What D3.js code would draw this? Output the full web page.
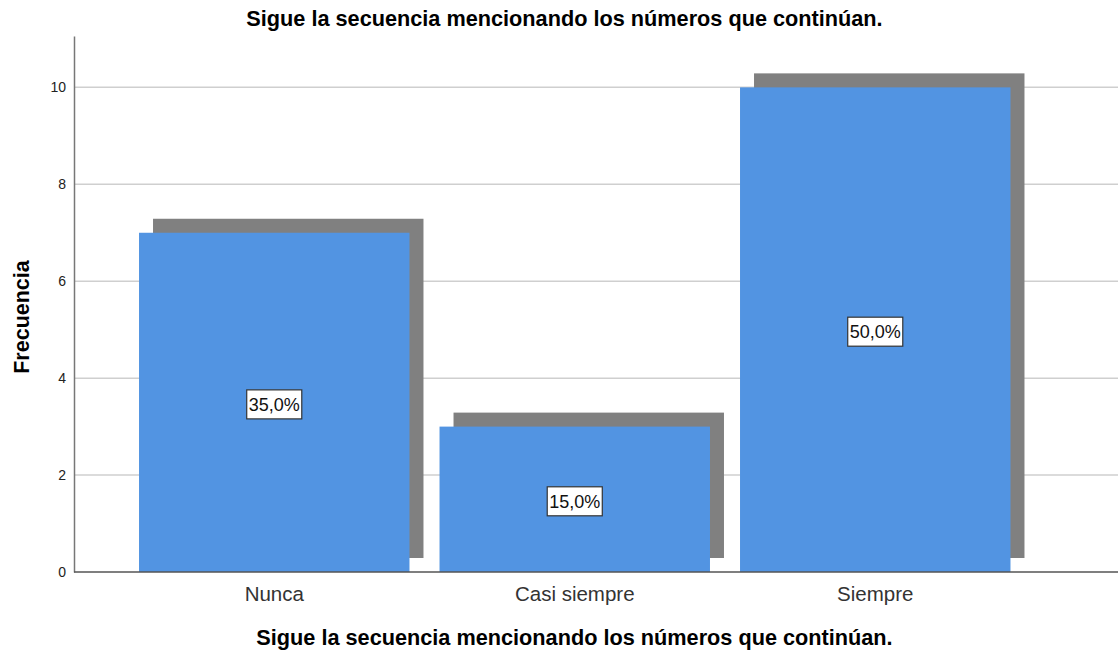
<!DOCTYPE html>
<html>
<head>
<meta charset="utf-8" />
<title>Frecuencia</title>
<style>
body {
	margin: 0;
	padding: 0;
	background-color: #fff;
}
svg text {
	font-family: "Liberation Sans", Arial, sans-serif;
}
</style>
</head>
<body>
<svg></svg>
<script src="https://cdn.jsdelivr.net/npm/d3@7"></script>
<script>

// data
var categories = ["Nunca", "Casi siempre", "Siempre"];
var counts = [7, 3, 10];
var percents = [35.0, 15.0, 50.0];
var yTicks = [0, 2, 4, 6, 8, 10];
var titleText = "Sigue la secuencia mencionando los números que continúan.";

var w = 1118, h = 651;
var shadow = 14; // offset of the grey drop shadow

var svg = d3.select("svg")
	.attr("width", w)
	.attr("height", h);

var x = d3.scaleBand()
	.domain(categories)
	.range([124, 1025.5])
	.paddingInner(0.1)
	.paddingOuter(0.05);

var y = d3.scaleLinear()
	.domain([0, 11.06])
	.range([572, 36]);

var data = categories.map(function(c, i) {
	return {cat: c, n: counts[i], pct: percents[i]};
});

// gridlines
svg.append("g")
	.selectAll("line")
	.data(yTicks.filter(function(d) { return d > 0; }))
	.enter().append("line")
		.attr("x1", 74)
		.attr("x2", w)
		.attr("y1", function(d) { return y(d); })
		.attr("y2", function(d) { return y(d); })
		.style("stroke", "#cfcfcf")
		.style("stroke-width", 1.5);

// shadows
svg.append("g")
	.selectAll("rect")
	.data(data)
	.enter().append("rect")
		.attr("x", function(d) { return x(d.cat) + shadow; })
		.attr("y", function(d) { return y(d.n) - shadow; })
		.attr("width", x.bandwidth())
		.attr("height", function(d) { return y(0) - y(d.n); })
		.style("fill", "#808080");

// bars
svg.append("g")
	.selectAll("rect")
	.data(data)
	.enter().append("rect")
		.attr("x", function(d) { return x(d.cat); })
		.attr("y", function(d) { return y(d.n); })
		.attr("width", x.bandwidth())
		.attr("height", function(d) { return y(0) - y(d.n); })
		.style("fill", "#5294e2");

// y axis
var yAxis = svg.append("g")
	.attr("transform", "translate(74,0)")
	.call(d3.axisLeft(y).tickValues(yTicks).tickSize(0).tickPadding(8));
yAxis.select(".domain").style("stroke", "#777").style("stroke-width", 1.5);
yAxis.selectAll("text")
	.style("font-size", "14px")
	.style("fill", "#222");

// x axis
var xAxis = svg.append("g")
	.attr("transform", "translate(0,572)")
	.call(d3.axisBottom(x).tickSize(0).tickPadding(14));
xAxis.select(".domain").attr("d", "M74,0H" + w).style("stroke", "#555").style("stroke-width", 1.5);
xAxis.selectAll("text")
	.style("font-size", "20.5px")
	.style("fill", "#333");

// percent labels with boxes
var lab = svg.append("g")
	.selectAll("g")
	.data(data)
	.enter().append("g")
		.attr("transform", function(d) {
			return "translate(" + (x(d.cat) + x.bandwidth() / 2) + "," + (y(d.n / 2) + 2) + ")";
		});
lab.append("text")
	.attr("text-anchor", "middle")
	.attr("dy", "0.36em")
	.style("font-size", "18px")
	.style("fill", "#111")
	.text(function(d) { return d3.format(".1f")(d.pct).replace(".", ",") + "%"; });
lab.each(function() {
	var bb = this.getBBox();
	var padX = 2;
	d3.select(this).insert("rect", ":first-child")
		.attr("x", bb.x - padX)
		.attr("y", -14.5)
		.attr("width", bb.width + 2 * padX)
		.attr("height", 29)
		.style("fill", "#fff")
		.style("stroke", "#333")
		.style("stroke-width", 1.2);
});

// titles
svg.append("text")
	.attr("x", 564.5)
	.attr("y", 26)
	.attr("text-anchor", "middle")
	.style("font-size", "21.7px")
	.style("font-weight", "bold")
	.text(titleText);

svg.append("text")
	.attr("x", 574.5)
	.attr("y", 645)
	.attr("text-anchor", "middle")
	.style("font-size", "21.7px")
	.style("font-weight", "bold")
	.text(titleText);

svg.append("text")
	.attr("transform", "translate(29,317) rotate(-90)")
	.attr("text-anchor", "middle")
	.style("font-size", "21.5px")
	.style("font-weight", "bold")
	.text("Frecuencia");

</script>
</body>
</html>
